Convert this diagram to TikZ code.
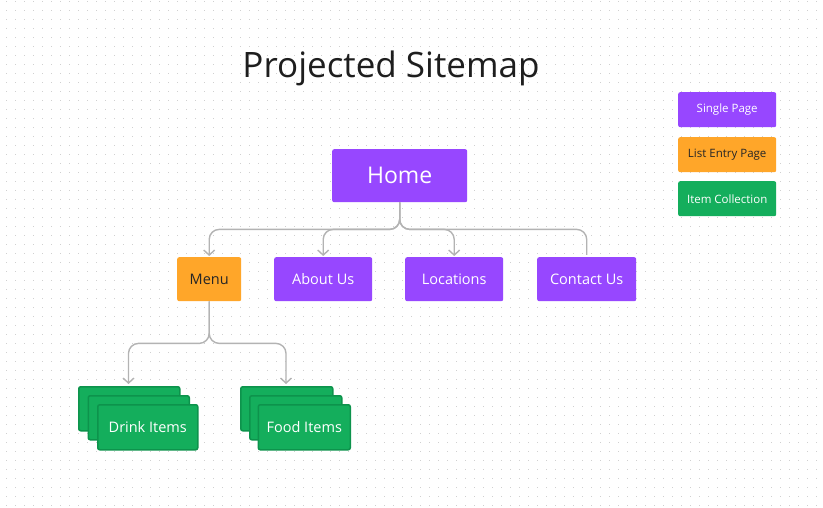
\documentclass[tikz,border=0pt]{standalone}
\usepackage{fontspec}
\setmainfont{Open Sans}
\usetikzlibrary{arrows.meta,calc}
\definecolor{fpurple}{HTML}{9747FF}
\definecolor{forange}{HTML}{FFA629}
\definecolor{fgreen}{HTML}{14AE5C}
\definecolor{fgreenborder}{HTML}{0D934C}
\definecolor{conngray}{HTML}{B3B3B3}
\definecolor{dotgray}{HTML}{D0D0D0}
\definecolor{titletext}{HTML}{1E1E1E}
\tikzset{
  pagebox/.style={draw=none, rounded corners=2, inner sep=0pt, anchor=north west,
    font=\fontsize{14.5}{16}\selectfont},
  single/.style={pagebox, fill=fpurple, text=white},
  listentry/.style={pagebox, fill=forange, text=black!85},
  collection/.style={pagebox, fill=fgreen, draw=fgreenborder, line width=1.5, text=white},
  legendbox/.style={pagebox, font=\fontsize{11.5}{13}\selectfont},
  conn/.style={draw=conngray, line width=1.4, rounded corners=10},
  tip/.style={-{Straight Barb[length=5,width=11,line width=1.4]}},
}
\begin{document}
\begin{tikzpicture}[x=1pt,y=-1pt]
\fill[white] (0,0) rectangle (823,508);
\useasboundingbox (0,0) rectangle (823,508);
% dot grid
\foreach \i in {0,...,91}{
  \foreach \j in {0,...,56}{
    \fill[dotgray] ({6.7+9*\i-0.6},{1.7+9*\j-0.6}) rectangle ++(1.2,1.2);
  }
}
% title
\node[font=\fontsize{35}{38}\selectfont, text=titletext, anchor=base] (title) at (391,78) {Projected Sitemap};
% main nodes
\node[single, minimum width=135, minimum height=53, font=\fontsize{23}{26}\selectfont] (home) at (332,149) {Home};
\node[listentry, minimum width=64, minimum height=44] (menu) at (177,257) {Menu};
\node[single, minimum width=98, minimum height=44] (about) at (274,257) {About Us};
\node[single, minimum width=98, minimum height=44] (loc) at (405,257) {Locations};
\node[single, minimum width=99, minimum height=44] (contact) at (537,257) {Contact Us};
% collections
\node[collection, minimum width=101, minimum height=44] (drink3) at (78,386) {};
\node[collection, minimum width=101, minimum height=44] (drink2) at (87.5,395) {};
\node[collection, minimum width=100, minimum height=45] (drink) at (97,404) {Drink Items};
\node[collection, minimum width=92, minimum height=44] (food3) at (240,386) {};
\node[collection, minimum width=92, minimum height=44] (food2) at (249,395) {};
\node[collection, minimum width=92, minimum height=45] (food) at (257.5,404) {Food Items};
% legend
\node[legendbox, fill=fpurple, text=white, minimum width=98, minimum height=35] (lg1) at (678,92) {Single Page};
\node[legendbox, fill=forange, text=black!85, minimum width=98, minimum height=35] (lg2) at (678,137) {List Entry Page};
\node[legendbox, fill=fgreen, text=white, minimum width=98, minimum height=35] (lg3) at (678,181) {Item Collection};
% connectors
\coordinate (hj) at ($(home.south)+(0,27)$);
\draw[conn, tip] (home.south) |- (hj -| menu.north) -- ($(menu.north)+(0,-1)$);
\draw[conn, tip] (home.south) |- (hj -| about.north) -- ($(about.north)+(0,-1)$);
\draw[conn, tip] (home.south) |- (hj -| loc.north) -- ($(loc.north)+(0,-1)$);
\draw[conn] (home.south) |- (hj -| contact.north) -- ($(contact.north)+(0,-2)$);
\coordinate (mj) at ($(menu.south)+(0,42)$);
\coordinate (dtop) at (128.5,384);
\coordinate (ftop) at (286,384);
\draw[conn, tip] (menu.south) |- (mj -| dtop) -- (dtop);
\draw[conn, tip] (menu.south) |- (mj -| ftop) -- (ftop);
\end{tikzpicture}
\end{document}
